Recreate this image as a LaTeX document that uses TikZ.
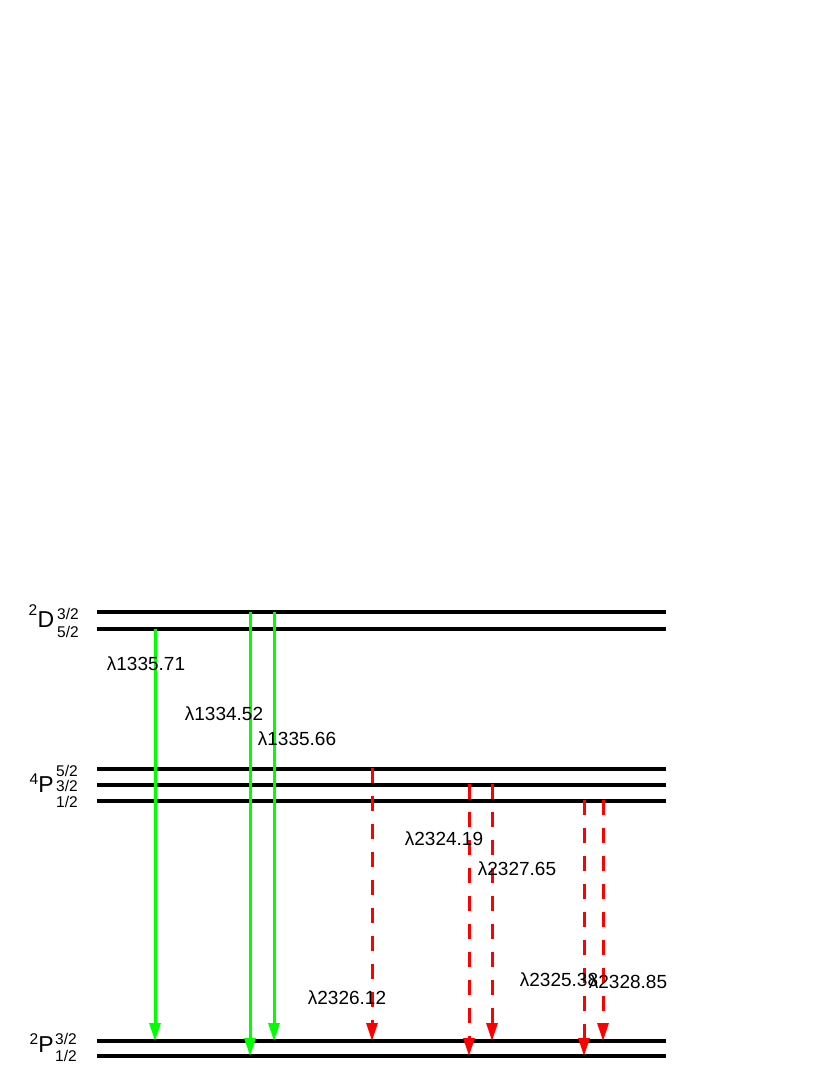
\documentclass[tikz,border=0pt]{standalone}
\usepackage{fontspec}
\setmainfont{Liberation Sans}
\usetikzlibrary{arrows.meta}
\definecolor{lgreen}{RGB}{0,255,0}
\definecolor{lred}{RGB}{255,0,0}
\begin{document}
\begin{tikzpicture}[x=1pt,y=-1pt,
  level/.style={line width=3.1pt, black},
  garrow/.style={draw=lgreen, line width=3pt, -{Triangle[length=18pt,width=11pt]}},
  rarrow/.style={draw=lred, line width=3pt, dash pattern=on 15pt off 13pt, -{Triangle[length=18pt,width=11pt]}},
  lab/.style={inner sep=0pt, font=\fontsize{19}{22}\selectfont},
  big/.style={inner sep=0pt, font=\fontsize{23}{26}\selectfont},
  small/.style={inner sep=0pt, font=\fontsize{15.5}{18}\selectfont}
]
\useasboundingbox (0,0) rectangle (830,1075);
% levels
\foreach \n/\y in {d32/612, d52/629, p52/769, p32/785, p12/801, g32/1041, g12/1056}{
  \coordinate (\n L) at (97,\y);
  \coordinate (\n R) at (666,\y);
  \draw[level] (\n L) -- (\n R);
}
% left labels
\node[big] (Dl) at (46,620) {D};
\node[small] (Dsup) at (33,610) {2};
\node[small] (D32) at (68,614) {3/2};
\node[small] (D52) at (68,632) {5/2};

\node[big] (Pl) at (46,785) {P};
\node[small] (Psup) at (34,779) {4};
\node[small] (P52) at (67,771) {5/2};
\node[small] (P32) at (67,786) {3/2};
\node[small] (P12) at (67,802) {1/2};

\node[big] (Gl) at (46,1045) {P};
\node[small] (Gsup) at (34,1039) {2};
\node[small] (G32) at (66,1039) {3/2};
\node[small] (G12) at (66,1056) {1/2};

% arrow end points
\coordinate (a1s) at (155,629);  \coordinate (a1e) at (155,1041);
\coordinate (a2s) at (250,612);  \coordinate (a2e) at (250,1056);
\coordinate (a3s) at (274,612);  \coordinate (a3e) at (274,1041);
\coordinate (r1s) at (372,768);  \coordinate (r1e) at (372,1041);
\coordinate (r2s) at (469,784);  \coordinate (r2e) at (469,1056);
\coordinate (r3s) at (492,784);  \coordinate (r3e) at (492,1041);
\coordinate (r4s) at (584,800);  \coordinate (r4e) at (584,1056);
\coordinate (r5s) at (603,800);  \coordinate (r5e) at (603,1041);

\draw[garrow] (a1s) -- (a1e);
\draw[garrow] (a2s) -- (a2e);
\draw[garrow] (a3s) -- (a3e);
\draw[rarrow] (r1s) -- (r1e);
\draw[rarrow] (r2s) -- (r2e);
\draw[rarrow] (r3s) -- (r3e);
\draw[rarrow] (r4s) -- (r4e);
\draw[rarrow] (r5s) -- (r5e);

% wavelength labels
\node[lab] (l1) at (146,664) {λ1335.71};
\node[lab] (l2) at (224,714) {λ1334.52};
\node[lab] (l3) at (297,739) {λ1335.66};
\node[lab] (l4) at (347,998) {λ2326.12};
\node[lab] (l5) at (444,839) {λ2324.19};
\node[lab] (l6) at (517,869) {λ2327.65};
\node[lab] (l7) at (559,980) {λ2325.38};
\node[lab] (l8) at (628,982) {λ2328.85};
\end{tikzpicture}
\end{document}
